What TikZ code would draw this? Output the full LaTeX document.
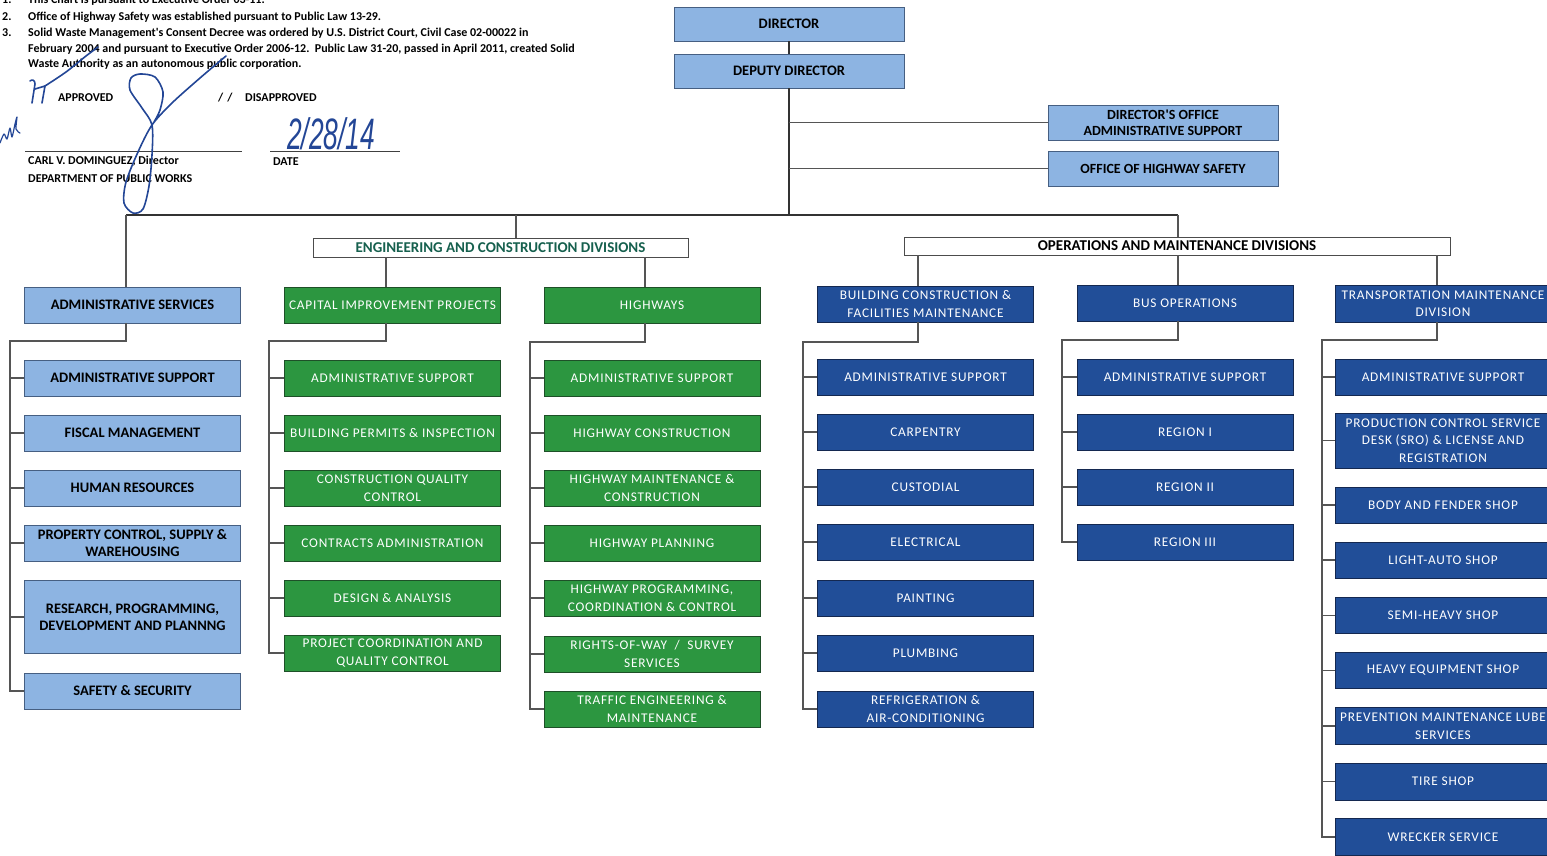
\documentclass[tikz,border=0pt]{standalone}
\usepackage{fontspec}
\usepackage{graphicx}
\setmainfont{Carlito}
\newfontfamily\calfont{Carlito}
\newfontfamily\calsp{Carlito}[LetterSpace=6]
\newfontfamily\handfont{Liberation Sans}
\definecolor{lbfill}{RGB}{141,180,226}
\definecolor{lbdraw}{RGB}{70,95,130}
\definecolor{grfill}{RGB}{44,150,64}
\definecolor{grdraw}{RGB}{30,80,40}
\definecolor{dbfill}{RGB}{33,78,152}
\definecolor{dbdraw}{RGB}{20,40,80}
\definecolor{engtext}{RGB}{22,96,78}
\definecolor{ink}{RGB}{35,70,150}
\definecolor{linecol}{RGB}{85,85,85}
\tikzset{
  lb/.style={draw=lbdraw, fill=lbfill, line width=0.8pt, minimum width=216pt, minimum height=36pt,
    align=center, inner sep=1pt, text=black, font=\calfont\bfseries\fontsize{14.5}{17}\selectfont},
  gr/.style={draw=grdraw, fill=grfill, line width=0.8pt, minimum width=216pt, minimum height=36pt,
    align=center, inner sep=1pt, text=white, font=\calsp\fontsize{13.3}{17.5}\selectfont},
  db/.style={gr, draw=dbdraw, fill=dbfill},
  hdr/.style={draw=black!70, fill=white, line width=0.8pt, inner sep=0pt,
    font=\calfont\bfseries\fontsize{15}{16}\selectfont},
  conn/.style={draw=linecol, line width=1.2pt},
  note/.style={anchor=base west, inner sep=0pt, font=\calfont\bfseries\fontsize{12}{13}\selectfont},
  sig/.style={draw=ink, line width=1.6pt, line cap=round, line join=round}
}
\begin{document}
\begin{tikzpicture}[x=1pt,y=-1pt]
\useasboundingbox (0,0) rectangle (1547,855);
\fill[white] (0,0) rectangle (1547,855);

% ---------- notes ----------
\node[note] (n1a) at (2,3) {1.};
\node[note] (n1b) at (28,3) {This Chart is pursuant to Executive Order 03-11.};
\node[note] (n2a) at (2,20) {2.};
\node[note] (n2b) at (28,20) {Office of Highway Safety was established pursuant to Public Law 13-29.};
\node[note] (n3a) at (2,36) {3.};
\node[note] (n3b) at (28,36) {Solid Waste Management's Consent Decree was ordered by U.S. District Court, Civil Case 02-00022 in};
\node[note] (n3c) at (28,52) {February 2004 and pursuant to Executive Order 2006-12.\ \ Public Law 31-20, passed in April 2011, created Solid};
\node[note] (n3d) at (28,67) {Waste Authority as an autonomous public corporation.};
\node[note] (ap) at (58,101) {APPROVED};
\node[note] (dpm) at (218,101) {/\,\,/};
\node[note] (dp) at (245,101) {DISAPPROVED};
\node[note] (carl) at (28,164) {CARL V. DOMINGUEZ, Director};
\node[note] (dpw) at (28,182) {DEPARTMENT OF PUBLIC WORKS};
\node[note] (date) at (273,165) {DATE};
\coordinate (s1) at (25,151); \coordinate (s2) at (242,151);
\coordinate (d1) at (270,151); \coordinate (d2) at (400,151);
\draw[black!75, line width=0.8pt] (s1) -- (s2);
\draw[black!75, line width=0.8pt] (d1) -- (d2);

% handwriting
\node[anchor=base west, inner sep=0pt, text=ink, font=\handfont\itshape\fontsize{44}{44}\selectfont] (hdate) at (287,149) {\scalebox{0.6}[1]{2/28/14}};
\draw[sig] (32,103) -- (35,84) .. controls (35,80) and (32,79) .. (30,81);
\draw[sig] (35,89) -- (45,86) -- (42,103);
\draw[sig] plot[smooth] coordinates {(45,86) (66,72) (86,56) (98,47)};
\draw[sig] plot[smooth] coordinates {(226,56) (200,78) (172,103) (152,125) (138,152) (126,182) (124,203) (133,213) (143,209) (149,186) (152,155) (152,125) (142,108) (130,90) (131,78) (140,74) (155,77) (163,92) (160,110) (154,122)};
\draw[sig, line width=1.2pt] plot[smooth] coordinates {(0,143) (4,134) (7,139) (10,128) (12,137) (15,124) (17,117) (16,129) (20,133)};

% ---------- top ----------
\node[lb, minimum width=230pt, minimum height=34pt] (dir) at (789,24) {DIRECTOR};
\node[lb, minimum width=230pt, minimum height=34pt] (dep) at (789,71) {DEPUTY DIRECTOR};
\node[lb, minimum width=230pt, minimum height=35pt, font=\calfont\bfseries\fontsize{14}{16}\selectfont] (doa) at (1163,122.5) {DIRECTOR'S OFFICE\\ADMINISTRATIVE SUPPORT};
\node[lb, minimum width=230pt, minimum height=35pt, font=\calfont\bfseries\fontsize{14}{16}\selectfont] (ohs) at (1163,168.5) {OFFICE OF HIGHWAY SAFETY};

\node[hdr, minimum width=375pt, minimum height=19pt, text=engtext] (eng) at (500.5,247.5) {ENGINEERING AND CONSTRUCTION DIVISIONS};
\node[hdr, minimum width=546pt, minimum height=18pt, text=black] (ops) at (1177,246) {OPERATIONS AND MAINTENANCE DIVISIONS};

\coordinate (hub) at (789,215);
\coordinate (hl) at (126,215);
\coordinate (hm) at (516,215);
\coordinate (hr) at (1178,215);
\draw[conn, draw=black!80] (dir) -- (dep);
\draw[conn, draw=black!80] (dep) -- (hub);
\draw[conn] (doa.west -| hub) -- (doa.west);
\draw[conn] (ohs.west -| hub) -- (ohs.west);
\draw[conn, draw=black!80] (hl) -- (hr);
\draw[conn] (hm) -- (eng.north -| hm);
\draw[conn] (hr) -- (ops.north -| hr);

% ---------- column 1 ----------
\node[lb] (as) at (132.5,305) {ADMINISTRATIVE SERVICES};
\node[lb] (as1) at (132.5,378) {ADMINISTRATIVE SUPPORT};
\node[lb] (as2) at (132.5,433) {FISCAL MANAGEMENT};
\node[lb] (as3) at (132.5,488) {HUMAN RESOURCES};
\node[lb] (as4) at (132.5,543) {PROPERTY CONTROL, SUPPLY \&\\WAREHOUSING};
\node[lb, minimum height=73pt] (as5) at (132.5,617) {RESEARCH, PROGRAMMING,\\DEVELOPMENT AND PLANNNG};
\node[lb] (as6) at (132.5,691) {SAFETY \& SECURITY};
\coordinate (c1e) at (126,341); \coordinate (c1b) at (10,341);
\draw[conn] (hl) -- (as.north -| hl);
\draw[conn] (as.south -| c1e) -- (c1e) -- (c1b) |- (as6.west);
\foreach \n in {as1,as2,as3,as4,as5} \draw[conn] (\n.west -| c1b) -- (\n.west);

% ---------- column 2 ----------
\node[gr] (cp) at (392.5,305) {CAPITAL IMPROVEMENT PROJECTS};
\node[gr] (cp1) at (392.5,378) {ADMINISTRATIVE SUPPORT};
\node[gr] (cp2) at (392.5,433) {BUILDING PERMITS \& INSPECTION};
\node[gr] (cp3) at (392.5,488) {CONSTRUCTION QUALITY\\CONTROL};
\node[gr] (cp4) at (392.5,543) {CONTRACTS ADMINISTRATION};
\node[gr] (cp5) at (392.5,598) {DESIGN \& ANALYSIS};
\node[gr] (cp6) at (392.5,653) {PROJECT COORDINATION AND\\QUALITY CONTROL};
\coordinate (c2e) at (386,341); \coordinate (c2b) at (269,341);
\draw[conn] (eng.south -| c2e) -- (cp.north -| c2e);
\draw[conn] (cp.south -| c2e) -- (c2e) -- (c2b) |- (cp6.west);
\foreach \n in {cp1,cp2,cp3,cp4,cp5} \draw[conn] (\n.west -| c2b) -- (\n.west);

% ---------- column 3 ----------
\node[gr] (hw) at (652,305) {HIGHWAYS};
\node[gr] (hw1) at (652,378) {ADMINISTRATIVE SUPPORT};
\node[gr] (hw2) at (652,433) {HIGHWAY CONSTRUCTION};
\node[gr] (hw3) at (652,488) {HIGHWAY MAINTENANCE \&\\CONSTRUCTION};
\node[gr] (hw4) at (652,543) {HIGHWAY PLANNING};
\node[gr] (hw5) at (652,598) {HIGHWAY PROGRAMMING,\\COORDINATION \& CONTROL};
\node[gr] (hw6) at (652,654) {RIGHTS-OF-WAY\ \ /\ \ SURVEY\\SERVICES};
\node[gr] (hw7) at (652,709) {TRAFFIC ENGINEERING \&\\MAINTENANCE};
\coordinate (c3e) at (645,342); \coordinate (c3b) at (530,342);
\draw[conn] (eng.south -| c3e) -- (hw.north -| c3e);
\draw[conn] (hw.south -| c3e) -- (c3e) -- (c3b) |- (hw7.west);
\foreach \n in {hw1,hw2,hw3,hw4,hw5,hw6} \draw[conn] (\n.west -| c3b) -- (\n.west);

% ---------- column 4 ----------
\node[db] (bc) at (925.5,304) {BUILDING CONSTRUCTION \&\\FACILITIES MAINTENANCE};
\node[db] (bc1) at (925.5,377) {ADMINISTRATIVE SUPPORT};
\node[db] (bc2) at (925.5,432) {CARPENTRY};
\node[db] (bc3) at (925.5,487) {CUSTODIAL};
\node[db] (bc4) at (925.5,542) {ELECTRICAL};
\node[db] (bc5) at (925.5,598) {PAINTING};
\node[db] (bc6) at (925.5,653) {PLUMBING};
\node[db] (bc7) at (925.5,709) {REFRIGERATION \&\\AIR-CONDITIONING};
\coordinate (c4e) at (918,342); \coordinate (c4b) at (803,342);
\draw[conn] (ops.south -| c4e) -- (bc.north -| c4e);
\draw[conn] (bc.south -| c4e) -- (c4e) -- (c4b) |- (bc7.west);
\foreach \n in {bc1,bc2,bc3,bc4,bc5,bc6} \draw[conn] (\n.west -| c4b) -- (\n.west);

% ---------- column 5 ----------
\node[db] (bo) at (1185,303) {BUS OPERATIONS};
\node[db] (bo1) at (1185,377) {ADMINISTRATIVE SUPPORT};
\node[db] (bo2) at (1185,432) {REGION I};
\node[db] (bo3) at (1185,487) {REGION II};
\node[db] (bo4) at (1185,542) {REGION III};
\coordinate (c5e) at (1178,340); \coordinate (c5b) at (1062,340);
\draw[conn] (ops.south -| c5e) -- (bo.north -| c5e);
\draw[conn] (bo.south -| c5e) -- (c5e) -- (c5b) |- (bo4.west);
\foreach \n in {bo1,bo2,bo3} \draw[conn] (\n.west -| c5b) -- (\n.west);

% ---------- column 6 ----------
\node[db, minimum height=37pt] (tm) at (1443,303.5) {TRANSPORTATION MAINTENANCE\\DIVISION};
\node[db] (tm1) at (1443,377) {ADMINISTRATIVE SUPPORT};
\node[db, minimum height=55pt] (tm2) at (1443,440.5) {PRODUCTION CONTROL SERVICE\\DESK (SRO) \& LICENSE AND\\REGISTRATION};
\node[db] (tm3) at (1443,505) {BODY AND FENDER SHOP};
\node[db] (tm4) at (1443,560) {LIGHT-AUTO SHOP};
\node[db] (tm5) at (1443,615.5) {SEMI-HEAVY SHOP};
\node[db] (tm6) at (1443,670.5) {HEAVY EQUIPMENT SHOP};
\node[db, minimum height=37pt] (tm7) at (1443,726) {PREVENTION MAINTENANCE LUBE\\SERVICES};
\node[db, minimum height=37pt] (tm8) at (1443,781.5) {TIRE SHOP};
\node[db, minimum height=37pt] (tm9) at (1443,837) {WRECKER SERVICE};
\coordinate (c6e) at (1437,340); \coordinate (c6b) at (1322,340);
\draw[conn] (ops.south -| c6e) -- (tm.north -| c6e);
\draw[conn] (tm.south -| c6e) -- (c6e) -- (c6b) |- (tm9.west);
\foreach \n in {tm1,tm2,tm3,tm4,tm5,tm6,tm7,tm8} \draw[conn] (\n.west -| c6b) -- (\n.west);
\end{tikzpicture}
\end{document}
